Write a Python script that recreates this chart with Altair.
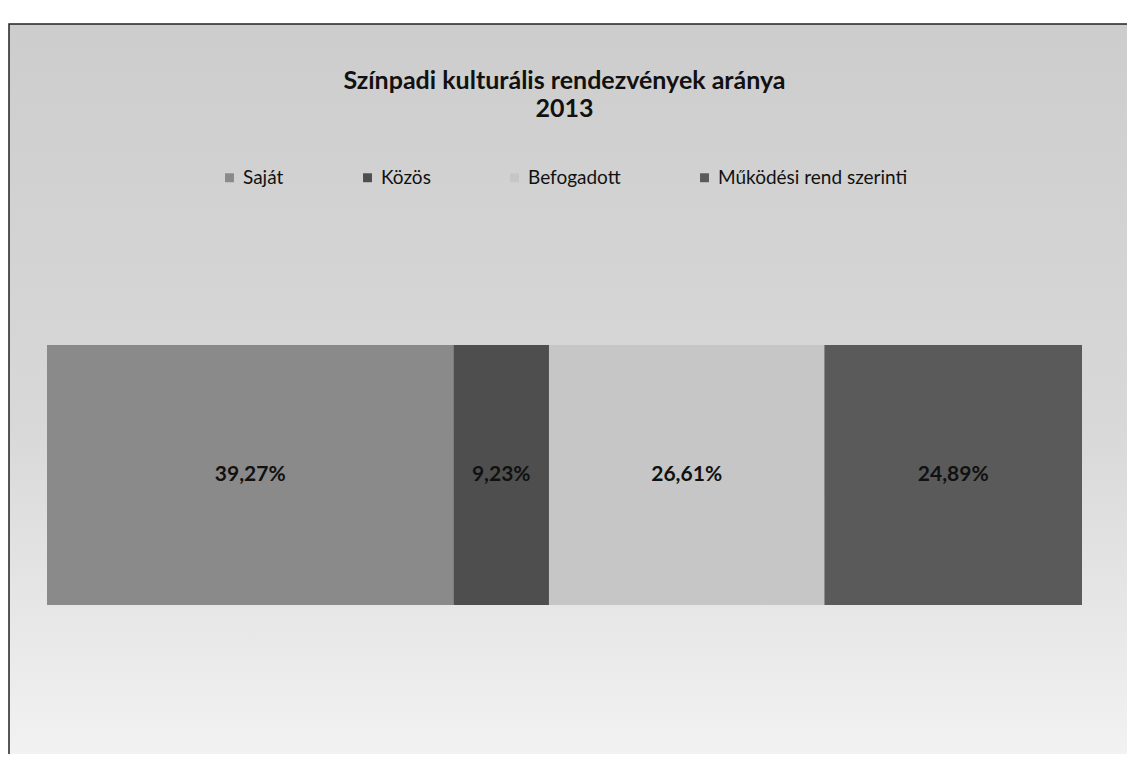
import altair as alt
import pandas as pd

categories = ["Saját", "Közös", "Befogadott", "Működési rend szerinti"]
shares = [39.27, 9.23, 26.61, 24.89]
labels = ["39,27%", "9,23%", "26,61%", "24,89%"]
colors = ["#8a8a8a", "#4e4e4e", "#c6c6c6", "#5a5a5a"]

df = pd.DataFrame({"kat": categories, "ertek": shares, "felirat": labels})
df["vege"] = df["ertek"].cumsum()
df["kezdet"] = df["vege"] - df["ertek"]
df["kozep"] = (df["kezdet"] + df["vege"]) / 2
df["sorrend"] = range(len(df))

W, H = 1035, 260
FONT = "Lato, 'Noto Sans', sans-serif"

xscale = alt.Scale(domain=[0, 100], nice=False, zero=True)

bg = alt.Chart(alt.Data(values=[{"a": 1}])).mark_rect(
    fill=alt.Gradient(
        gradient="linear",
        stops=[alt.GradientStop(color="#cdcdcd", offset=0),
               alt.GradientStop(color="#d8d8d8", offset=0.55),
               alt.GradientStop(color="#f2f2f2", offset=1)],
        x1=0, x2=0, y1=0, y2=1),
    stroke="#222222", strokeWidth=1.5, clip=False
).encode(x=alt.value(-38), x2=alt.value(1110), y=alt.value(-321), y2=alt.value(410))

bars = alt.Chart(df).mark_bar(clip=False).encode(
    x=alt.X("kezdet:Q", scale=xscale, axis=None),
    x2="vege:Q",
    y=alt.value(0),
    y2=alt.value(H),
    color=alt.Color("kat:N", scale=alt.Scale(domain=categories, range=colors),
                    sort=categories,
                    legend=alt.Legend(title=None, orient="none", direction="horizontal",
                                      legendX=173, legendY=-177, columns=4,
                                      columnPadding=74, symbolType="square",
                                      symbolSize=80, symbolStrokeWidth=0,
                                      labelFontSize=19, labelFont=FONT,
                                      labelLimit=500,
                                      labelColor="#111111", labelOffset=4)),
    order="sorrend:Q",
)

text = alt.Chart(df).mark_text(fontSize=21, fontWeight="bold", font=FONT,
                               color="#111111", baseline="middle").encode(
    x=alt.X("kozep:Q", scale=xscale),
    y=alt.value(H / 2),
    text="felirat:N",
)

chart = alt.layer(bg, bars, text).properties(
    width=W, height=H,
    autosize=alt.AutoSizeParams(type="none"),
    padding={"left": 39, "top": 337, "right": 45, "bottom": 149},
    title=alt.Title(["Színpadi kulturális rendezvények aránya", "2013"],
                    anchor="middle", fontSize=25, font=FONT, fontWeight="bold",
                    color="#111111", offset=0, dy=99, lineHeight=28),
).configure_view(stroke=None).configure(background="white")

chart.save("out.html", embed_options={"renderer": "svg", "actions": False})
